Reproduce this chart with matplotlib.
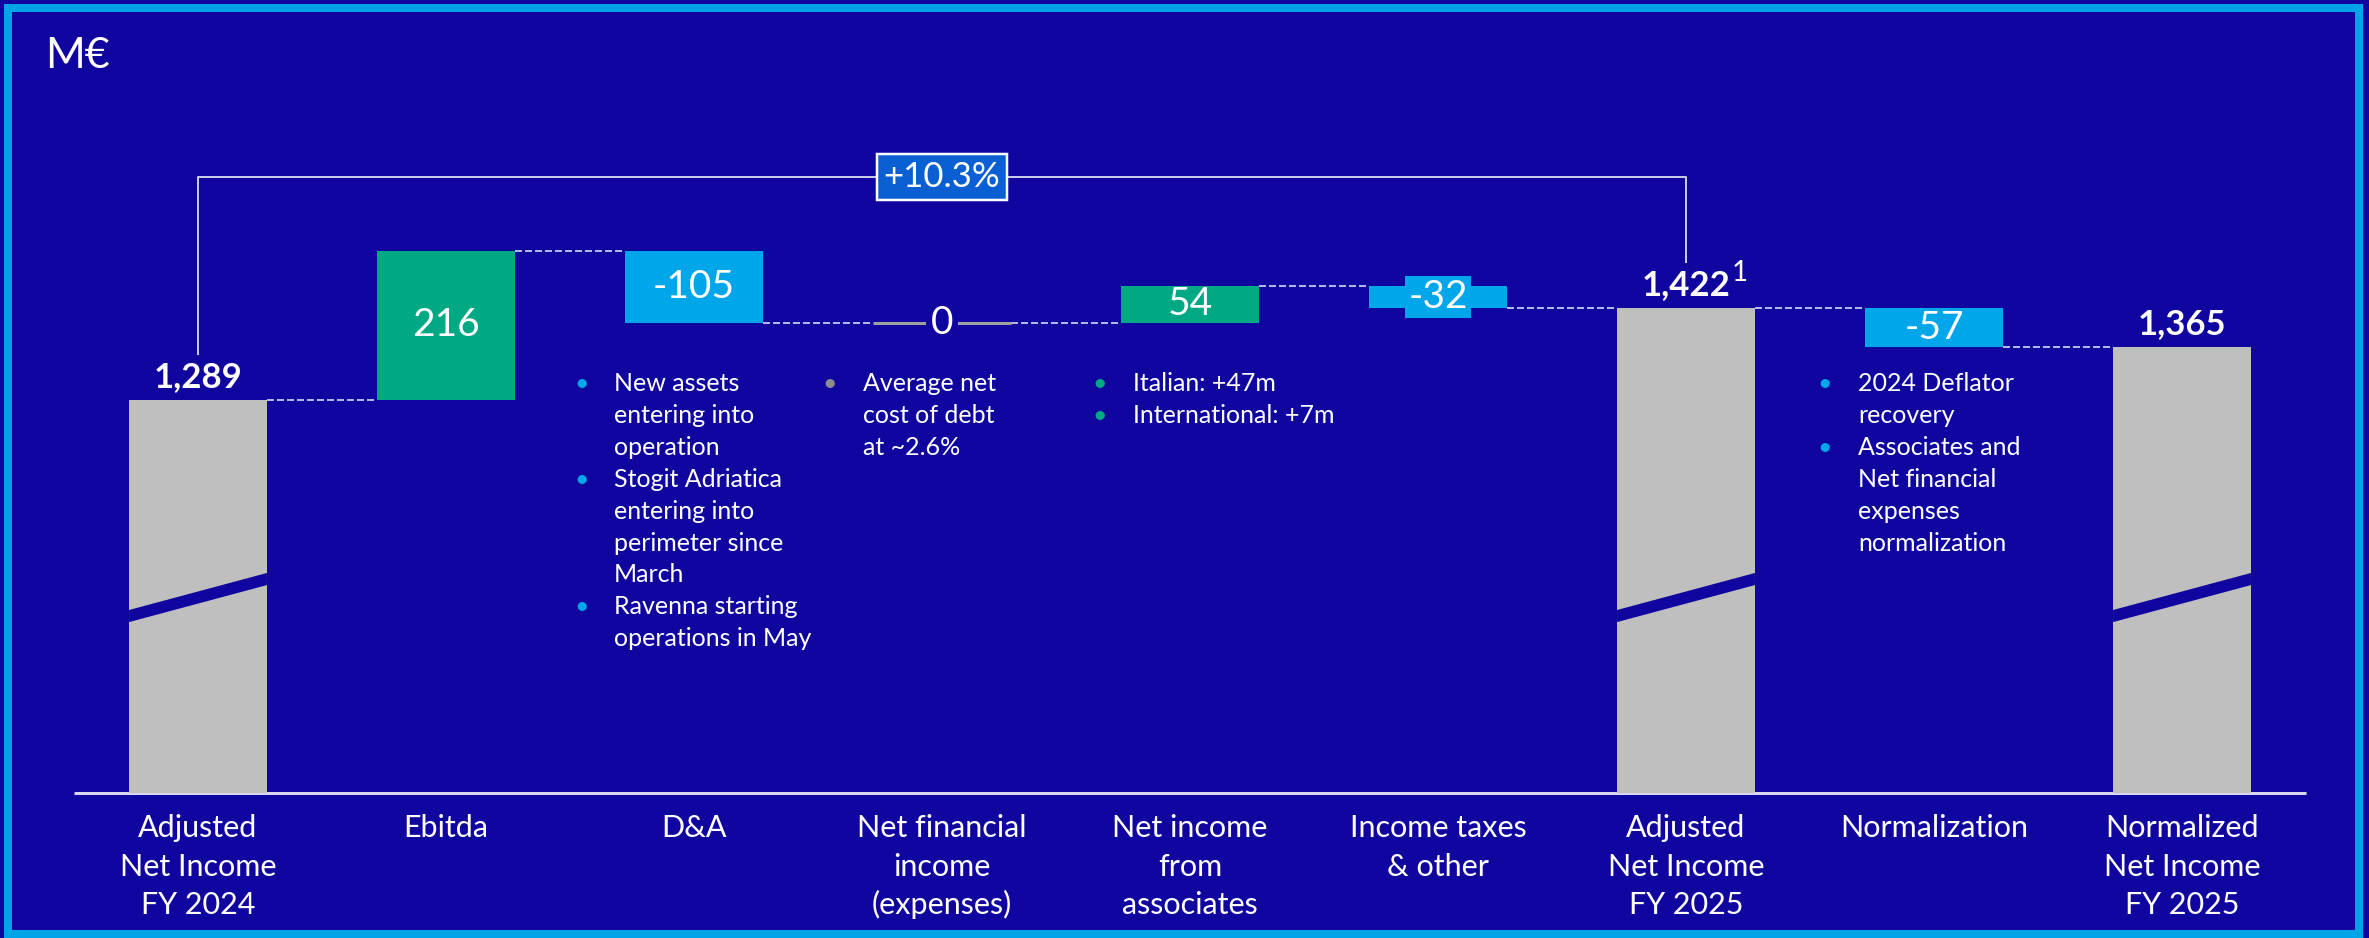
"""Net income bridge FY 2024 -> FY 2025 (waterfall with broken total bars)."""

import matplotlib.pyplot as plt
from matplotlib.patches import Polygon, Rectangle

plt.rcParams["font.family"] = ["Lato", "DejaVu Sans"]

# --- data -------------------------------------------------------------------
categories = [
    "Adjusted\nNet Income\nFY 2024",
    "Ebitda",
    "D&A",
    "Net financial\nincome\n(expenses)",
    "Net income\nfrom\nassociates",
    "Income taxes\n& other",
    "Adjusted\nNet Income\nFY 2025",
    "Normalization",
    "Normalized\nNet Income\nFY 2025",
]
kinds = ["total", "delta", "delta", "delta", "delta", "delta", "total", "delta", "total"]
values = [1289, 216, -105, 0, 54, -32, 1422, -57, 1365]
value_labels = ["1,289", "216", "-105", "0", "54", "-32", "1,422", "-57", "1,365"]
growth_label = "+10.3%"
footnote_mark = "1"
unit_label = "M€"

notes = {
    2: [["New assets", "entering into", "operation"],
        ["Stogit Adriatica", "entering into", "perimeter since", "March"],
        ["Ravenna starting", "operations in May"]],
    3: [["Average net", "cost of debt", "at ~2.6%"]],
    4: [["Italian: +47m"], ["International: +7m"]],
    7: [["2024 Deflator", "recovery"],
        ["Associates and", "Net financial", "expenses", "normalization"]],
}

# --- style ------------------------------------------------------------------
BG = "#10069F"
FRAME = "#00A3E8"
GREY = "#BFBFBF"
GREEN = "#00A984"
LIGHT_BLUE = "#00A6EA"
CONNECTOR = "#B4B4E6"
BRACKET = "#C8C8E8"
AXIS = "#D8D8F2"
BULLET_COLORS = {2: LIGHT_BLUE, 3: "#8C8C8C", 4: GREEN, 7: LIGHT_BLUE}
NOTE_X = {2: -0.455, 3: -0.452, 4: -0.363, 7: -0.44}

W, H, DPI = 23.69, 9.38, 100
BASE = 721          # value at the (broken) baseline
BAR_W = 0.556
THIN_BAR = 40       # deltas smaller than this get a label box wider than the bar
PX = 72 / DPI       # points per pixel


def pt(px):
    return px * PX


# running levels for the waterfall
starts, ends = [], []
level = 0
for kind, v in zip(kinds, values):
    if kind == "total":
        starts.append(BASE)
        level = v
    else:
        starts.append(level)
        level += v
    ends.append(level)

fig = plt.figure(figsize=(W, H), dpi=DPI, facecolor=BG)
ax = fig.add_axes([0, 0, 1, 1])
ax.set_xlim(-198 / 248, (W * DPI - 198) / 248)
ax.set_ylim(511.5, 1867)
ax.axis("off")

# outer frame
fig.patches.append(Rectangle((7.5 / (W * DPI), 4 / (H * DPI)),
                             (2358.5 - 7.5) / (W * DPI), (934 - 8) / (H * DPI),
                             transform=fig.transFigure, fill=False,
                             edgecolor=FRAME, linewidth=pt(8)))

fig.text(45 / (W * DPI), 1 - 68 / (H * DPI), unit_label, color="white",
         fontsize=31, va="baseline", ha="left")

n = len(categories)
ax.plot([-0.5, n - 0.5], [BASE, BASE], color=AXIS, lw=pt(3), zorder=2,
        solid_capstyle="butt")

for i, (kind, v, s, e) in enumerate(zip(kinds, values, starts, ends)):
    left, right = i - BAR_W / 2, i + BAR_W / 2
    if kind == "total":
        ax.bar(i, e - BASE, bottom=BASE, width=BAR_W, color=GREY, zorder=3)
        # axis break band
        ax.add_patch(Polygon([(left, 968), (right, 1021.5), (right, 1039), (left, 985.5)],
                             closed=True, facecolor=BG, edgecolor="none", zorder=4))
        lbl = ax.annotate(value_labels[i], (i, e), xytext=(0, pt(13)),
                          textcoords="offset points", ha="center", va="baseline",
                          color="white", fontsize=25, fontweight="bold", zorder=6)
        if i == 6:
            ax.annotate(footnote_mark, xy=(1, 1), xycoords=lbl,
                        xytext=(pt(1), pt(9)), textcoords="offset points",
                        ha="left", va="top", color="white", fontsize=20)
    elif v == 0:
        ax.plot([left, right], [e, e], color="#A0A0A0", lw=pt(3), zorder=3,
                solid_capstyle="butt")
        ax.text(i, e, value_labels[i], ha="center", va="center", color="white",
                fontsize=28, zorder=6,
                bbox=dict(boxstyle="square,pad=0.12", facecolor=BG, edgecolor="none"))
    else:
        color = GREEN if v > 0 else LIGHT_BLUE
        ax.bar(i, abs(v), bottom=min(s, e), width=BAR_W, color=color, zorder=3)
        box = None
        if abs(v) < THIN_BAR:
            box = dict(boxstyle="square,pad=0.08", facecolor=color, edgecolor="none")
        ax.text(i, (s + e) / 2, value_labels[i], ha="center", va="center",
                color="white", fontsize=28, zorder=6, bbox=box)

    # dashed connector to the next column
    if i < n - 1:
        ax.plot([right, i + 1 - BAR_W / 2], [e, e], color=CONNECTOR, lw=pt(2),
                linestyle=(0, (3.5, 1.5)), zorder=2)

    # category label, one line at a time
    for k, line in enumerate(categories[i].split("\n")):
        ax.annotate(line, (i, BASE), xytext=(0, -pt(44) - k * pt(38.7)),
                    textcoords="offset points", ha="center", va="baseline",
                    color="white", fontsize=22)

# growth bracket between the two adjusted totals
gap = 66
y_top = max(ends) + 106
ax.plot([0, 0, 6, 6], [ends[0] + gap, y_top, y_top, ends[6] + gap],
        color=BRACKET, lw=pt(2), zorder=2)
ax.text(3, y_top, growth_label, ha="center", va="center", color="white",
        fontsize=25, zorder=6,
        bbox=dict(boxstyle="square,pad=0.2", facecolor="#0A60D2",
                  edgecolor="white", linewidth=pt(2.5)))

# bullet notes under the bridge steps
note_top = 1 - 391 / (H * DPI)
for i, items in notes.items():
    x = i + NOTE_X[i]
    k = 0
    for item in items:
        ax.annotate("\u2022", (x, note_top), xycoords=("data", "axes fraction"),
                    xytext=(0, -k * pt(31.9)), textcoords="offset points",
                    ha="center", va="baseline", color=BULLET_COLORS[i], fontsize=18)
        for line in item:
            ax.annotate(line, (x, note_top), xycoords=("data", "axes fraction"),
                        xytext=(pt(33), -k * pt(31.9)), textcoords="offset points",
                        ha="left", va="baseline", color="white", fontsize=18)
            k += 1

fig.savefig("out.png", dpi=DPI, facecolor=BG)
